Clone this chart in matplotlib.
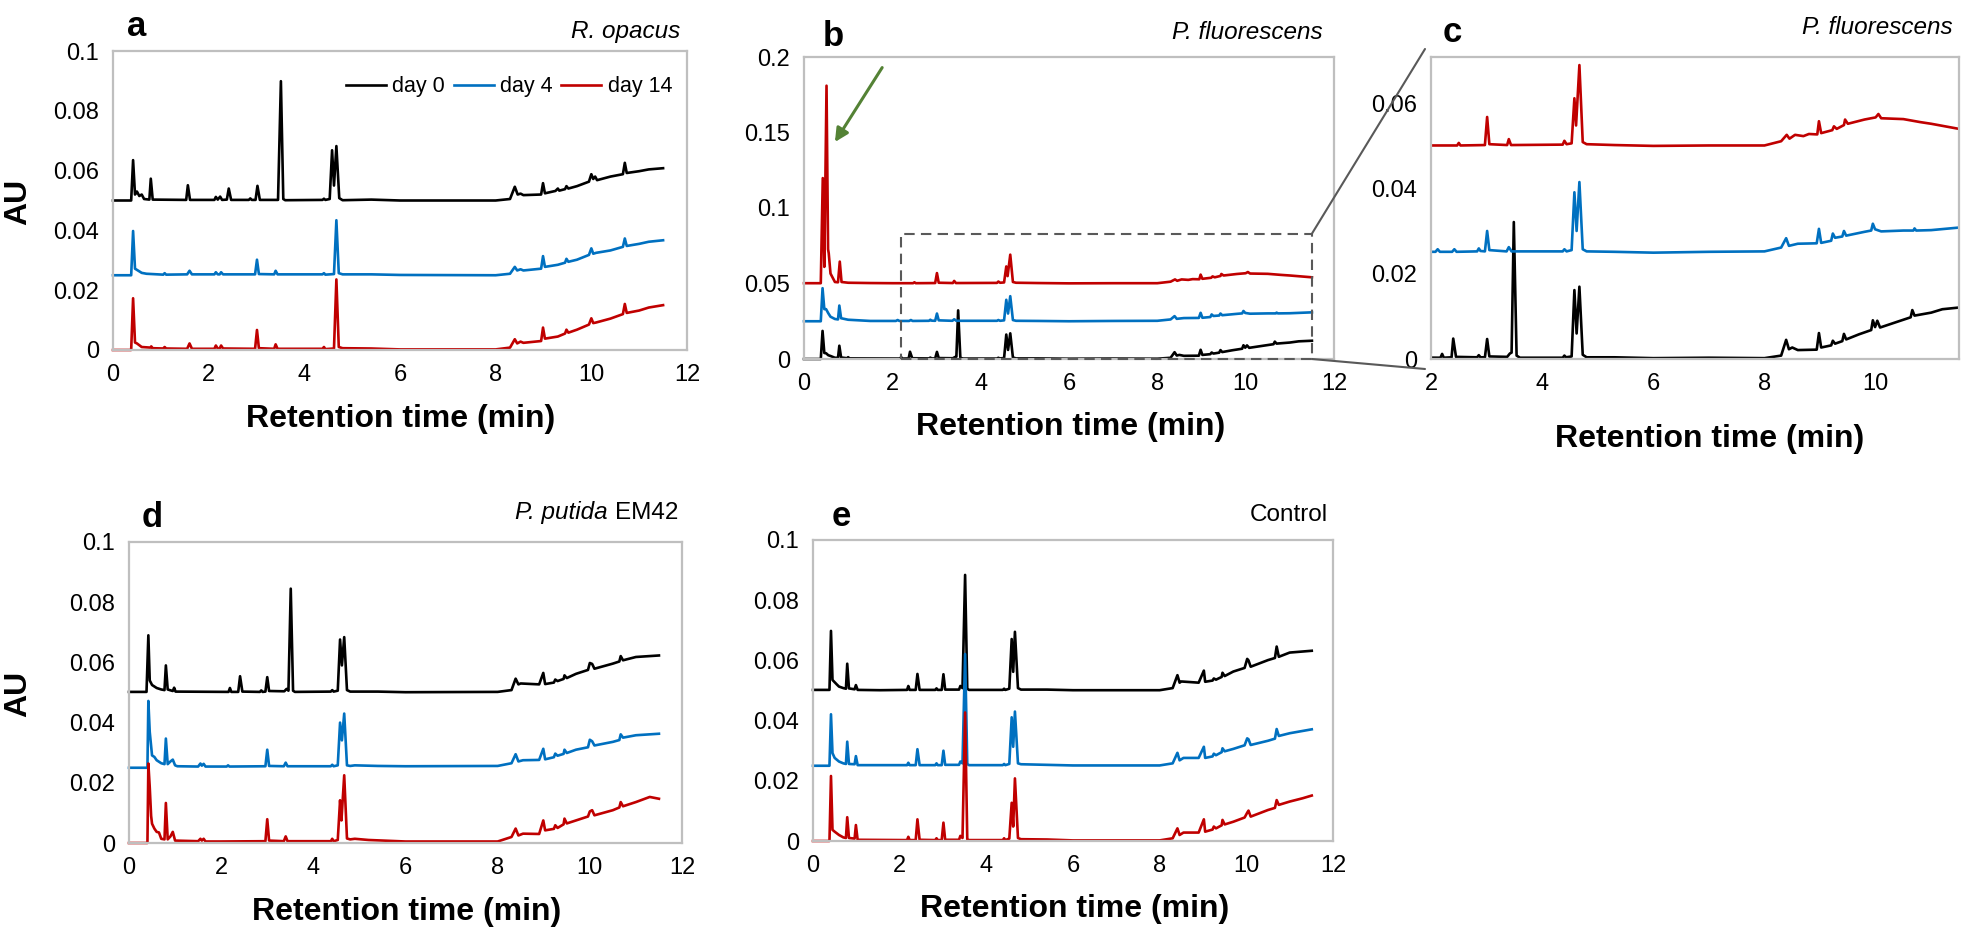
import numpy as np
import matplotlib
matplotlib.use('Agg')
import matplotlib.pyplot as plt
from matplotlib.patches import Rectangle, ConnectionPatch
from matplotlib.ticker import FuncFormatter

plt.rcParams['font.family'] = ['Liberation Sans', 'DejaVu Sans']

# chromatogram traces: (retention time in min, AU as plotted)
# panel a - R. opacus
a_day0 = [(0, 0.050), (0.38, 0.050), (0.42, 0.0635), (0.46, 0.052), (0.5, 0.053), (0.55, 0.0515), (0.6, 0.052),
          (0.65, 0.0505), (0.76, 0.0503), (0.79, 0.0573), (0.83, 0.0503), (1.53, 0.0502), (1.565, 0.0551),
          (1.61, 0.0502), (2.12, 0.0502), (2.15, 0.0512), (2.19, 0.0503), (2.24, 0.0513), (2.28, 0.0502),
          (2.38, 0.0503), (2.42, 0.054), (2.47, 0.0502), (2.84, 0.0502), (2.87, 0.0507), (2.9, 0.0502),
          (2.98, 0.0502), (3.02, 0.0549), (3.07, 0.0502), (3.45, 0.0502), (3.51, 0.0899), (3.56, 0.0505),
          (3.6, 0.0501), (4.38, 0.0502), (4.41, 0.0506), (4.44, 0.0502), (4.53, 0.0505), (4.58, 0.0668),
          (4.62, 0.055), (4.67, 0.0682), (4.73, 0.0508), (4.8, 0.0501), (5.4, 0.0503), (6.0, 0.0500),
          (8.0, 0.0500), (8.3, 0.0505), (8.4, 0.0546), (8.46, 0.052), (8.52, 0.0523), (8.58, 0.0518),
          (8.95, 0.052), (8.99, 0.0558), (9.03, 0.0524), (9.25, 0.0532), (9.3, 0.054), (9.33, 0.0533),
          (9.45, 0.0538), (9.48, 0.0548), (9.52, 0.054), (9.7, 0.0548), (9.95, 0.0563), (10.0, 0.0588),
          (10.04, 0.0572), (10.08, 0.058), (10.12, 0.0568), (10.4, 0.058), (10.66, 0.0588), (10.7, 0.0626),
          (10.74, 0.0592), (11.0, 0.0598), (11.2, 0.0604), (11.5, 0.0608)]
a_day4 = [(0, 0.025), (0.38, 0.025), (0.42, 0.0398), (0.46, 0.0272), (0.5, 0.0268), (0.6, 0.0258), (0.7, 0.0255),
          (1.05, 0.0252), (1.08, 0.0257), (1.11, 0.0252), (1.55, 0.0253), (1.6, 0.0265), (1.65, 0.0253),
          (2.12, 0.0253), (2.15, 0.026), (2.19, 0.0253), (2.23, 0.0253), (2.26, 0.026), (2.3, 0.0253),
          (2.97, 0.0253), (3.01, 0.0302), (3.05, 0.0254), (3.37, 0.0253), (3.4, 0.0265), (3.44, 0.0253),
          (4.38, 0.0253), (4.41, 0.0257), (4.44, 0.0252), (4.62, 0.0254), (4.67, 0.0434), (4.72, 0.0257),
          (4.8, 0.0253), (5.4, 0.0253), (6.0, 0.0251), (8.0, 0.025), (8.3, 0.0255), (8.4, 0.0278),
          (8.45, 0.0266), (8.52, 0.027), (8.58, 0.0266), (8.95, 0.0272), (8.99, 0.0314), (9.03, 0.0278),
          (9.3, 0.0285), (9.45, 0.0292), (9.48, 0.0305), (9.52, 0.0295), (9.7, 0.0302), (9.95, 0.0318),
          (10.0, 0.034), (10.04, 0.0322), (10.1, 0.0325), (10.4, 0.0333), (10.66, 0.0345), (10.7, 0.0373),
          (10.74, 0.0348), (11.0, 0.0355), (11.2, 0.0362), (11.5, 0.0367)]
a_day14 = [(0, 0.0), (0.38, 0.0), (0.42, 0.0173), (0.46, 0.0025), (0.5, 0.0022), (0.6, 0.001), (0.78, 0.0008),
           (0.8, 0.0012), (0.83, 0.0006), (1.05, 0.0005), (1.08, 0.001), (1.11, 0.0005), (1.55, 0.0004),
           (1.6, 0.0022), (1.65, 0.0004), (2.12, 0.0004), (2.15, 0.0015), (2.19, 0.0005), (2.23, 0.0005),
           (2.26, 0.0015), (2.3, 0.0005), (2.97, 0.0004), (3.01, 0.0067), (3.05, 0.0006), (3.37, 0.0004),
           (3.4, 0.0019), (3.44, 0.0004), (4.38, 0.0004), (4.41, 0.001), (4.44, 0.0003), (4.62, 0.0005),
           (4.67, 0.0236), (4.72, 0.001), (4.8, 0.0006), (5.4, 0.0005), (6.0, 0.0002), (8.0, 0.0002),
           (8.3, 0.0008), (8.4, 0.0036), (8.45, 0.0022), (8.52, 0.0028), (8.58, 0.0024), (8.95, 0.003),
           (8.99, 0.0075), (9.03, 0.0038), (9.3, 0.0045), (9.45, 0.0055), (9.48, 0.0068), (9.52, 0.0058),
           (9.7, 0.0068), (9.95, 0.0085), (10.0, 0.0106), (10.04, 0.009), (10.1, 0.0092), (10.4, 0.0105),
           (10.66, 0.012), (10.7, 0.0154), (10.74, 0.0124), (11.0, 0.0132), (11.2, 0.0142), (11.5, 0.015)]

# panels b and c - P. fluorescens (c is a zoom of b)
pf_day0 = [(0, 0.0), (0.38, 0.0), (0.42, 0.0186), (0.46, 0.004), (0.5, 0.0038), (0.55, 0.0025), (0.6, 0.002),
           (0.7, 0.0008), (0.77, 0.0008), (0.8, 0.0088), (0.84, 0.001), (0.98, 0.0005), (1.0, 0.0012),
           (1.03, 0.0004), (2.17, 0.0003), (2.2, 0.0012), (2.23, 0.0003), (2.37, 0.0004), (2.4, 0.0048),
           (2.45, 0.0005), (2.83, 0.0004), (2.86, 0.0009), (2.89, 0.0004), (2.97, 0.0004), (3.01, 0.0047),
           (3.05, 0.0006), (3.37, 0.0005), (3.42, 0.0013), (3.45, 0.0015), (3.49, 0.0322), (3.54, 0.0008),
           (3.6, 0.0003), (4.37, 0.0003), (4.4, 0.0008), (4.43, 0.0004), (4.53, 0.0006), (4.58, 0.0162),
           (4.62, 0.006), (4.67, 0.017), (4.73, 0.001), (4.8, 0.0004), (5.3, 0.0004), (6.0, 0.0002),
           (7.0, 0.0003), (8.0, 0.0002), (8.3, 0.0008), (8.39, 0.0045), (8.44, 0.0023), (8.5, 0.0027),
           (8.6, 0.0021), (8.94, 0.0022), (8.98, 0.0061), (9.02, 0.0027), (9.2, 0.0032), (9.23, 0.0043),
           (9.27, 0.0036), (9.4, 0.0042), (9.43, 0.0059), (9.47, 0.0046), (9.7, 0.0058), (9.92, 0.0068),
           (9.95, 0.0091), (9.99, 0.0075), (10.03, 0.009), (10.08, 0.0074), (10.4, 0.0088), (10.63, 0.0098),
           (10.66, 0.0115), (10.7, 0.0102), (11.0, 0.0109), (11.2, 0.0117), (11.5, 0.0121)]
pf_day4 = [(0, 0.025), (0.38, 0.025), (0.42, 0.0469), (0.46, 0.033), (0.5, 0.033), (0.55, 0.0303), (0.6, 0.028),
           (0.7, 0.0265), (0.77, 0.0262), (0.8, 0.0354), (0.84, 0.027), (1.0, 0.026), (1.5, 0.0252),
           (2.08, 0.0252), (2.12, 0.0258), (2.16, 0.0252), (2.38, 0.0252), (2.42, 0.0258), (2.46, 0.0252),
           (2.83, 0.0253), (2.86, 0.026), (2.89, 0.0254), (2.97, 0.0253), (3.01, 0.0301), (3.05, 0.0256),
           (3.36, 0.0253), (3.4, 0.0263), (3.45, 0.0253), (4.37, 0.0253), (4.4, 0.0258), (4.44, 0.0253),
           (4.53, 0.0256), (4.58, 0.0392), (4.62, 0.0301), (4.67, 0.0416), (4.73, 0.0258), (4.8, 0.0253),
           (5.3, 0.0252), (6.0, 0.025), (7.0, 0.0252), (8.0, 0.0253), (8.3, 0.0262), (8.39, 0.0284),
           (8.44, 0.0266), (8.6, 0.0271), (8.94, 0.0272), (8.98, 0.0306), (9.02, 0.0273), (9.2, 0.0278),
           (9.23, 0.0295), (9.27, 0.0285), (9.4, 0.0288), (9.43, 0.0301), (9.47, 0.029), (9.8, 0.0299),
           (9.92, 0.0302), (9.95, 0.0318), (9.99, 0.0305), (10.1, 0.03), (10.5, 0.0302), (10.68, 0.0302),
           (10.7, 0.0307), (10.73, 0.0302), (11.0, 0.0303), (11.5, 0.0309)]
pf_day14 = [(0, 0.0502), (0.38, 0.0502), (0.425, 0.1198), (0.46, 0.061), (0.51, 0.181), (0.545, 0.0727),
            (0.56, 0.07), (0.6, 0.0566), (0.7, 0.051), (0.77, 0.0508), (0.81, 0.0645), (0.85, 0.051),
            (1.0, 0.0505), (1.5, 0.0503), (2.0, 0.0502), (2.47, 0.0502), (2.5, 0.0508), (2.53, 0.0502),
            (2.97, 0.0503), (3.01, 0.0569), (3.05, 0.0505), (3.37, 0.0503), (3.4, 0.0517), (3.44, 0.0503),
            (4.37, 0.0504), (4.4, 0.0513), (4.44, 0.0505), (4.53, 0.0507), (4.58, 0.0613), (4.61, 0.0549),
            (4.67, 0.0691), (4.73, 0.051), (4.8, 0.0505), (5.3, 0.0503), (6.0, 0.0501), (7.0, 0.0502),
            (8.0, 0.0502), (8.3, 0.0512), (8.4, 0.0527), (8.45, 0.0518), (8.55, 0.0527), (8.7, 0.0524),
            (8.8, 0.0529), (8.95, 0.0528), (8.98, 0.0559), (9.02, 0.0531), (9.22, 0.0538), (9.25, 0.0547),
            (9.3, 0.0541), (9.43, 0.055), (9.45, 0.0563), (9.5, 0.0553), (9.8, 0.0563), (10.0, 0.0568),
            (10.05, 0.0576), (10.1, 0.0566), (10.5, 0.0564), (10.8, 0.0557), (11.0, 0.0553), (11.5, 0.0541)]

# panel d - P. putida EM42
d_day0 = [(0, 0.0502), (0.38, 0.0502), (0.42, 0.069), (0.45, 0.054), (0.5, 0.0525), (0.55, 0.052), (0.6, 0.0515),
          (0.7, 0.051), (0.77, 0.0508), (0.8, 0.059), (0.84, 0.051), (0.95, 0.0505), (0.98, 0.0516),
          (1.01, 0.0503), (2.16, 0.0502), (2.19, 0.0515), (2.22, 0.0502), (2.37, 0.0502), (2.41, 0.0554),
          (2.46, 0.0503), (2.84, 0.0502), (2.87, 0.0507), (2.9, 0.0502), (2.96, 0.0503), (3.0, 0.0551),
          (3.04, 0.0505), (3.37, 0.0504), (3.42, 0.0512), (3.46, 0.0506), (3.51, 0.0845), (3.56, 0.0506),
          (3.6, 0.0502), (4.38, 0.0503), (4.41, 0.0508), (4.44, 0.0503), (4.53, 0.0506), (4.58, 0.0676),
          (4.62, 0.059), (4.67, 0.0684), (4.73, 0.0508), (4.8, 0.0503), (5.4, 0.0503), (6.0, 0.0501),
          (8.0, 0.0502), (8.3, 0.0508), (8.39, 0.0546), (8.45, 0.0527), (8.5, 0.053), (8.9, 0.0527),
          (8.99, 0.0565), (9.03, 0.0528), (9.22, 0.0533), (9.25, 0.0543), (9.3, 0.0538), (9.43, 0.0545),
          (9.45, 0.0557), (9.5, 0.0548), (9.7, 0.0562), (9.96, 0.0575), (10.0, 0.0598), (10.05, 0.0595),
          (10.1, 0.0579), (10.5, 0.0596), (10.64, 0.0603), (10.67, 0.0621), (10.72, 0.0607), (11.0, 0.0618),
          (11.5, 0.0623)]
d_day4 = [(0, 0.025), (0.4, 0.025), (0.42, 0.0472), (0.45, 0.0369), (0.5, 0.0291), (0.55, 0.0286), (0.6, 0.0275),
          (0.7, 0.0265), (0.77, 0.0262), (0.8, 0.0347), (0.84, 0.0262), (0.9, 0.0271), (0.95, 0.0277),
          (1.0, 0.0258), (1.05, 0.0255), (1.5, 0.0254), (1.55, 0.0264), (1.58, 0.0257), (1.62, 0.0263),
          (1.66, 0.0254), (2.12, 0.0254), (2.15, 0.0258), (2.18, 0.0254), (2.96, 0.0255), (3.0, 0.031),
          (3.04, 0.0256), (3.36, 0.0255), (3.4, 0.0267), (3.44, 0.0255), (4.38, 0.0255), (4.41, 0.026),
          (4.44, 0.0255), (4.53, 0.0258), (4.58, 0.04), (4.62, 0.0341), (4.67, 0.043), (4.73, 0.0258),
          (4.8, 0.0256), (4.9, 0.0258), (5.4, 0.0256), (6.0, 0.0255), (8.0, 0.0256), (8.3, 0.0265),
          (8.39, 0.0295), (8.45, 0.0271), (8.55, 0.0275), (8.9, 0.0276), (8.99, 0.0313), (9.03, 0.0278),
          (9.22, 0.0285), (9.25, 0.0297), (9.3, 0.029), (9.43, 0.0296), (9.45, 0.031), (9.5, 0.0299),
          (9.7, 0.031), (9.96, 0.0318), (10.0, 0.0343), (10.05, 0.0338), (10.1, 0.0324), (10.5, 0.0336),
          (10.64, 0.0342), (10.67, 0.0361), (10.72, 0.035), (11.0, 0.0358), (11.5, 0.0363)]
d_day14 = [(0, 0.0), (0.4, 0.0), (0.42, 0.0264), (0.45, 0.0186), (0.48, 0.009), (0.5, 0.0064), (0.55, 0.0048),
           (0.6, 0.0037), (0.65, 0.0035), (0.7, 0.0014), (0.77, 0.0012), (0.8, 0.0133), (0.84, 0.0012),
           (0.9, 0.0022), (0.95, 0.0037), (1.0, 0.0008), (1.5, 0.0006), (1.55, 0.0014), (1.58, 0.0008),
           (1.62, 0.0014), (1.66, 0.0005), (2.0, 0.0005), (2.96, 0.0006), (3.0, 0.0079), (3.04, 0.0008),
           (3.36, 0.0006), (3.4, 0.0022), (3.44, 0.0006), (4.38, 0.0006), (4.41, 0.0014), (4.44, 0.0006),
           (4.53, 0.001), (4.58, 0.0142), (4.61, 0.0075), (4.67, 0.0225), (4.73, 0.0015), (4.8, 0.0012),
           (4.9, 0.0014), (5.2, 0.001), (6.0, 0.0005), (8.0, 0.0005), (8.3, 0.002), (8.39, 0.0048),
           (8.45, 0.0025), (8.55, 0.0031), (8.9, 0.003), (8.99, 0.0075), (9.03, 0.0042), (9.22, 0.0047),
           (9.25, 0.0059), (9.3, 0.005), (9.43, 0.0062), (9.45, 0.0081), (9.5, 0.0065), (9.7, 0.0075),
           (9.96, 0.0088), (10.0, 0.0105), (10.05, 0.0109), (10.1, 0.0092), (10.5, 0.0109), (10.64, 0.0118),
           (10.67, 0.0136), (10.72, 0.0122), (11.0, 0.0136), (11.3, 0.0153), (11.5, 0.0147)]

# panel e - control
e_day0 = [(0, 0.0502), (0.38, 0.0502), (0.415, 0.0698), (0.45, 0.0535), (0.55, 0.052), (0.6, 0.0513),
          (0.7, 0.0508), (0.76, 0.0506), (0.79, 0.0589), (0.83, 0.0507), (0.96, 0.0504), (0.99, 0.0518),
          (1.03, 0.0502), (1.55, 0.0501), (2.17, 0.0502), (2.2, 0.0515), (2.23, 0.0502), (2.37, 0.0502),
          (2.41, 0.0555), (2.46, 0.0502), (2.82, 0.0502), (2.85, 0.0507), (2.88, 0.0502), (2.97, 0.0502),
          (3.01, 0.0554), (3.05, 0.0503), (3.37, 0.0503), (3.4, 0.0515), (3.45, 0.0508), (3.51, 0.0884),
          (3.56, 0.0506), (3.6, 0.0502), (4.38, 0.0502), (4.41, 0.0506), (4.44, 0.0502), (4.53, 0.0506),
          (4.585, 0.0671), (4.62, 0.0562), (4.66, 0.0695), (4.73, 0.0508), (4.8, 0.0503), (5.4, 0.0503),
          (6.0, 0.0501), (8.0, 0.0501), (8.3, 0.0508), (8.41, 0.0551), (8.46, 0.0526), (8.5, 0.053),
          (8.9, 0.0526), (9.02, 0.0566), (9.05, 0.0529), (9.22, 0.0533), (9.25, 0.054), (9.3, 0.0536),
          (9.43, 0.0545), (9.45, 0.0559), (9.5, 0.0548), (9.7, 0.0563), (9.96, 0.0575), (10.02, 0.0605),
          (10.05, 0.06), (10.1, 0.0579), (10.5, 0.0601), (10.66, 0.0608), (10.7, 0.0646), (10.75, 0.0612),
          (11.0, 0.0626), (11.51, 0.0632)]
e_day4 = [(0, 0.025), (0.38, 0.025), (0.415, 0.0421), (0.45, 0.0292), (0.5, 0.0276), (0.6, 0.0264),
          (0.7, 0.0258), (0.76, 0.0256), (0.79, 0.033), (0.83, 0.0256), (0.96, 0.0255), (0.99, 0.0282),
          (1.03, 0.0252), (2.17, 0.0252), (2.2, 0.026), (2.23, 0.0252), (2.37, 0.0252), (2.41, 0.0305),
          (2.46, 0.0252), (2.82, 0.0252), (2.85, 0.0258), (2.88, 0.0252), (2.97, 0.0252), (3.01, 0.03),
          (3.05, 0.0253), (3.37, 0.0253), (3.4, 0.0264), (3.45, 0.0258), (3.51, 0.0621), (3.56, 0.0256),
          (3.6, 0.0252), (4.38, 0.0252), (4.41, 0.0256), (4.44, 0.0252), (4.53, 0.0256), (4.585, 0.0411),
          (4.62, 0.0313), (4.66, 0.043), (4.73, 0.0258), (4.8, 0.0255), (5.4, 0.0253), (6.0, 0.0251),
          (8.0, 0.0251), (8.3, 0.0258), (8.41, 0.0293), (8.46, 0.0268), (8.55, 0.0276), (8.9, 0.0276),
          (9.02, 0.0313), (9.05, 0.0276), (9.22, 0.0281), (9.25, 0.029), (9.3, 0.0285), (9.43, 0.0295),
          (9.45, 0.0308), (9.5, 0.0298), (9.7, 0.0306), (9.96, 0.0318), (10.02, 0.0341), (10.05, 0.0338),
          (10.1, 0.0319), (10.5, 0.0333), (10.66, 0.034), (10.7, 0.0372), (10.75, 0.0349), (11.0, 0.0358),
          (11.51, 0.0371)]
e_day14 = [(0, 0.0), (0.38, 0.0), (0.415, 0.0216), (0.45, 0.0037), (0.5, 0.0031), (0.6, 0.002), (0.7, 0.0012),
           (0.76, 0.001), (0.79, 0.0079), (0.83, 0.001), (0.96, 0.0008), (0.99, 0.0053), (1.03, 0.0004),
           (2.17, 0.0003), (2.2, 0.0014), (2.23, 0.0003), (2.37, 0.0003), (2.41, 0.0072), (2.46, 0.0004),
           (2.82, 0.0003), (2.85, 0.0009), (2.88, 0.0003), (2.97, 0.0003), (3.01, 0.0061), (3.05, 0.0004),
           (3.37, 0.0004), (3.4, 0.0017), (3.45, 0.001), (3.51, 0.0427), (3.56, 0.0006), (3.6, 0.0003),
           (4.38, 0.0003), (4.41, 0.0009), (4.44, 0.0003), (4.53, 0.0008), (4.585, 0.0127), (4.62, 0.0048),
           (4.66, 0.0208), (4.73, 0.001), (4.8, 0.0006), (5.4, 0.0005), (6.0, 0.0002), (8.0, 0.0002),
           (8.3, 0.0009), (8.41, 0.0042), (8.46, 0.002), (8.55, 0.0028), (8.9, 0.0028), (9.02, 0.0072),
           (9.05, 0.0031), (9.22, 0.0038), (9.25, 0.0048), (9.3, 0.0042), (9.43, 0.0052), (9.45, 0.007),
           (9.5, 0.0055), (9.7, 0.0064), (9.96, 0.0078), (10.02, 0.0094), (10.05, 0.0101), (10.1, 0.0081),
           (10.5, 0.0103), (10.66, 0.011), (10.7, 0.0136), (10.75, 0.012), (11.0, 0.0131), (11.3, 0.0142),
           (11.51, 0.0151)]

series_names = ['day 0', 'day 4', 'day 14']
series_colors = ['#000000', '#0070C0', '#C00000']
zoom_window = (2.2, 11.5, 0.0, 0.083)   # dashed box in b, shown in c

W, H = 1961, 932
fig = plt.figure(figsize=(W / 100, H / 100), dpi=100)


def px(x, y):
    return x / W, 1 - y / H


def make_axes(x0, y0, x1, y1):
    ax = fig.add_axes([x0 / W, 1 - y1 / H, (x1 - x0) / W, (y1 - y0) / H])
    for s in ax.spines.values():
        s.set_color('#bfbfbf')
        s.set_linewidth(1.6)
    ax.tick_params(length=0, labelsize=17, pad=10)
    ax.yaxis.set_major_formatter(FuncFormatter(lambda v, p: '{:g}'.format(round(v, 4))))
    return ax


def draw(ax, traces, clip=False):
    for tr, name, col in zip(traces, series_names, series_colors):
        t, y = np.array(tr).T
        ax.plot(t, y, color=col, lw=1.9, label=name, clip_on=clip)


ax_a = make_axes(113, 51, 687, 350)
ax_b = make_axes(804, 57, 1334, 359)
ax_c = make_axes(1431, 57, 1959, 359)
ax_d = make_axes(129, 542, 682, 843)
ax_e = make_axes(813, 540, 1333, 841)

draw(ax_a, [a_day0, a_day4, a_day14])
draw(ax_b, [pf_day0, pf_day4, pf_day14])
draw(ax_c, [pf_day0, pf_day4, pf_day14], clip=True)
draw(ax_d, [d_day0, d_day4, d_day14])
draw(ax_e, [e_day0, e_day4, e_day14])

for ax in [ax_a, ax_d, ax_e]:
    ax.set_xlim(0, 12)
    ax.set_ylim(0, 0.1)
    ax.set_xticks(np.arange(0, 13, 2))
    ax.set_yticks(np.arange(0, 0.101, 0.02))
ax_b.set_xlim(0, 12)
ax_b.set_ylim(0, 0.2)
ax_b.set_xticks(np.arange(0, 13, 2))
ax_b.set_yticks([0, 0.05, 0.1, 0.15, 0.2])
ax_c.set_xlim(2, 11.5)
ax_c.set_ylim(0, 0.071)
ax_c.set_xticks([2, 4, 6, 8, 10])
ax_c.set_yticks([0, 0.02, 0.04, 0.06])

ax_a.legend(loc='center right', bbox_to_anchor=(0.974, 0.88), ncol=3, frameon=False, fontsize=15.5,
            handlelength=1.85, handletextpad=0.3, columnspacing=0.4, borderpad=0, borderaxespad=0)

# zoom box in b and the lines to c
x0, x1, y0, y1 = zoom_window
ax_b.add_patch(Rectangle((x0, y0), x1 - x0, y1 - y0, fill=False, ec='#595959', lw=1.5,
                         ls=(0, (5, 3)), clip_on=False, zorder=5))
for yb, yfig in [(y1, 49), (y0, 369)]:
    con = ConnectionPatch(xyA=(x1, yb), coordsA=ax_b.transData, xyB=px(1425, yfig),
                          coordsB=fig.transFigure, color='#595959', lw=1.5)
    fig.add_artist(con)

# arrow to the new peak in b
ax_b.annotate('', xy=(0.70, 0.1437), xytext=(1.77, 0.193),
              arrowprops=dict(arrowstyle='-|>,head_length=0.8,head_width=0.4', color='#548235',
                              lw=2.2, shrinkA=0, shrinkB=0))

# panel letters
for letter, (x, y) in zip('abcde', [(127, 36), (823, 46), (1443, 42), (142, 527), (832, 526)]):
    fig.text(*px(x, y), letter, fontsize=25, fontweight='bold', ha='left', va='baseline')

# organism labels
fig.text(*px(680, 38), 'R. opacus', fontsize=17.5, style='italic', ha='right', va='baseline')
fig.text(*px(1323, 39), 'P. fluorescens', fontsize=17.5, style='italic', ha='right', va='baseline')
fig.text(*px(1953, 34), 'P. fluorescens', fontsize=17.5, style='italic', ha='right', va='baseline')
fig.text(*px(1328, 521), 'Control', fontsize=17.5, ha='right', va='baseline')
em = fig.text(*px(678, 519), 'EM42', fontsize=17.5, ha='right', va='baseline')
ax_d.annotate('P. putida ', xy=(0, 0), xycoords=em, fontsize=17.5, style='italic', ha='right', va='bottom')

# axis titles
for x, y in [(401, 427), (1071, 435), (1710, 447), (407, 920), (1075, 917)]:
    fig.text(*px(x, y), 'Retention time (min)', fontsize=23, fontweight='bold', ha='center', va='baseline')
for y in [202, 694]:
    fig.text(*px(18, y), 'AU', fontsize=23, fontweight='bold', rotation=90, ha='center', va='center')

fig.savefig('out.png', dpi=100)
